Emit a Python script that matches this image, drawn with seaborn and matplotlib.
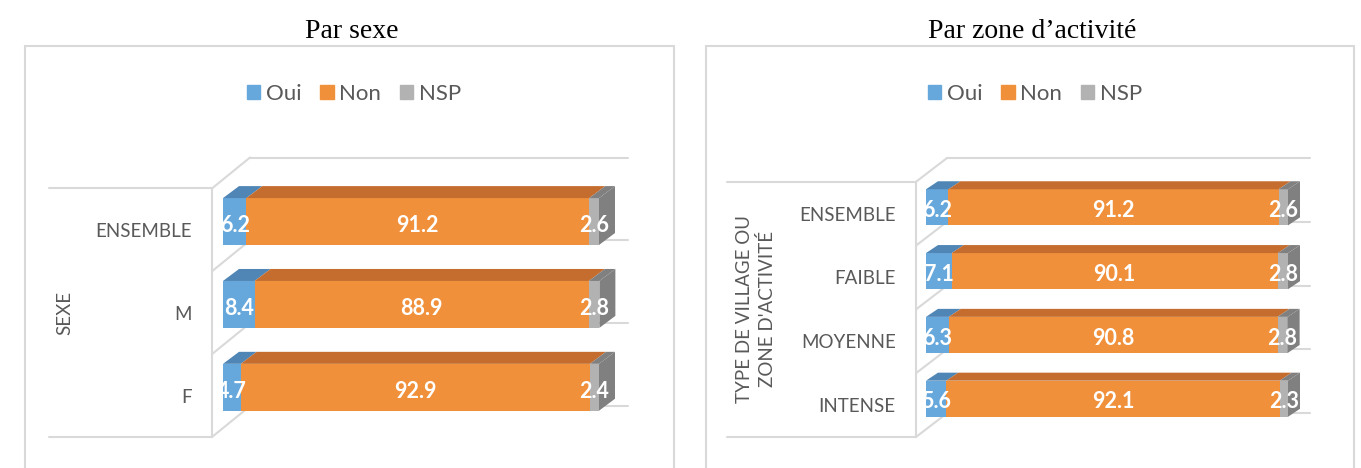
import matplotlib.pyplot as plt
import pandas as pd
import seaborn as sns
from matplotlib.patches import Patch, Polygon, Rectangle

# data
responses = ["Oui", "Non", "NSP"]

sexe_cats = ["ENSEMBLE", "M", "F"]
sexe_oui = [6.2, 8.4, 4.7]
sexe_non = [91.2, 88.9, 92.9]
sexe_nsp = [2.6, 2.8, 2.4]

zone_cats = ["ENSEMBLE", "FAIBLE", "MOYENNE", "INTENSE"]
zone_oui = [6.2, 7.1, 6.3, 5.6]
zone_non = [91.2, 90.1, 90.8, 92.1]
zone_nsp = [2.6, 2.8, 2.8, 2.3]

front_colors = {"Oui": "#67A8DC", "Non": "#F0903B", "NSP": "#B2B2B2"}
top_colors = {"Oui": "#4F86B5", "Non": "#C46D2E", "NSP": "#808080"}
LINE = "#D9D9D9"
TEXT = "#595959"

W, H = 1361, 468
FLOOR = 0.373  # depth of the 3d floor, in category units

sns.set_theme(style="white")
plt.rcParams["font.family"] = ["Lato", "DejaVu Sans"]


def draw_panel(fig, cats, oui, non, nsp, lay):
    n = len(cats)
    x0, y0, x1, y1 = lay["ax"]
    ax = fig.add_axes([x0 / W, 1 - y1 / H, (x1 - x0) / W, (y1 - y0) / H])

    # cumulative values so the overlaid bars look stacked
    cum_oui = list(oui)
    cum_non = [a + b for a, b in zip(oui, non)]
    cum_all = [a + b for a, b in zip(cum_non, nsp)]
    df = pd.DataFrame({
        "cat": cats * 3,
        "rep": ["NSP"] * n + ["Non"] * n + ["Oui"] * n,
        "cum": cum_all + cum_non + cum_oui,
    })
    bar_h = 0.566
    sns.barplot(data=df, x="cum", y="cat", hue="rep", hue_order=["NSP", "Non", "Oui"],
                palette=front_colors, dodge=False, width=bar_h, orient="h",
                saturation=1, errorbar=None, legend=False, linewidth=0, ax=ax, zorder=2)

    sx = (lay["hundred"] - lay["zero"]) / 100
    xlim = ((x0 - lay["zero"]) / sx, (x1 - lay["zero"]) / sx)
    band = (y1 - y0) / (n + FLOOR)
    ax.set_xlim(*xlim)
    ax.set_ylim(n - 0.4, -0.4 - FLOOR)
    back_x = (lay["back"] - lay["zero"]) / sx
    ddx = lay["depth"][0] / sx
    ddy = lay["depth"][1] / band

    # walls and floor of the 3d frame
    ax.plot([xlim[0], xlim[0]], [-0.4, n - 0.4], color=LINE, lw=1.5, clip_on=False, zorder=0.5)
    for k in range(n + 1):
        s = k - 0.4
        ax.plot([xlim[0], back_x], [s, s - FLOOR], color=LINE, lw=1.5, clip_on=False, zorder=0.5)
        ax.plot([back_x, xlim[1]], [s - FLOOR, s - FLOOR], color=LINE, lw=1.5, clip_on=False, zorder=0.5)
    tl = (lay["table"] - x0) / (x1 - x0)
    for s in [-0.4, n - 0.4]:
        ax.plot([tl, 0], [s, s], color=LINE, lw=1.5, transform=ax.get_yaxis_transform(),
                clip_on=False, zorder=0.5)

    # top and side faces of each bar, plus the value labels
    clip = Rectangle((0, -5), 500, 20, transform=ax.transData)
    bars = ax.containers[0]
    for i, p in enumerate(bars):
        yt = p.get_y()
        yb = yt + p.get_height()
        yc = yt + p.get_height() / 2
        segs = [(0, cum_oui[i], oui[i], "Oui"), (cum_oui[i], cum_non[i], non[i], "Non"),
                (cum_non[i], cum_all[i], nsp[i], "NSP")]
        for a, b, v, r in segs:
            ax.add_patch(Polygon([(a, yt), (b, yt), (b + ddx, yt - ddy), (a + ddx, yt - ddy)],
                                 closed=True, facecolor=top_colors[r], lw=0, zorder=3))
            t = ax.text((a + b) / 2, yc + 0.05, f"{v:.1f}", ha="center", va="center",
                        color="white", fontsize=15.5, fontweight="bold", zorder=4)
            t.set_clip_path(clip)
        end = cum_all[i]
        ax.add_patch(Polygon([(end, yt), (end + ddx, yt - ddy), (end + ddx, yb - ddy), (end, yb)],
                             closed=True, facecolor=top_colors["NSP"], lw=0, zorder=3))

    ax.set_yticks([k + 0.1 for k in range(n)], cats)
    ax.set_xticks([])
    ax.tick_params(axis="y", length=0, pad=14.5, labelsize=13.5, labelcolor=TEXT)
    ax.set_xlabel("")
    for sp in ax.spines.values():
        sp.set_visible(False)
    ax.patch.set_alpha(0)

    ax.set_ylabel(lay["ylabel"], color=TEXT, fontsize=13.5, va="center", ha="center",
                  multialignment="center", linespacing=1.3)
    lx, ly = lay["ylabel_at"]
    ax.yaxis.set_label_coords((lx - x0) / (x1 - x0), (y1 - ly) / (y1 - y0))

    # outer frame, title and legend of the panel
    bx0, by0, bx1 = lay["box"]
    fig.add_artist(Rectangle((bx0 / W, -0.1), (bx1 - bx0) / W, 1 - by0 / H + 0.1,
                             transform=fig.transFigure, fill=False, ec=LINE, lw=1.5))
    fig.text(lay["title_x"] / W, 1 - 31 / H, lay["title"], ha="center", va="center",
             fontsize=20, family="Liberation Serif", color="black")
    handles = [Patch(color=front_colors[r], label=r) for r in responses]
    fig.legend(handles=handles, loc="center", bbox_to_anchor=(lay["legend_x"] / W, 1 - 94 / H),
               ncol=3, frameon=False, fontsize=16, handlelength=0.6, handleheight=0.6,
               handletextpad=0.25, columnspacing=0.85, labelcolor=TEXT)
    return ax


fig = plt.figure(figsize=(W / 100, H / 100), dpi=100)

draw_panel(fig, sexe_cats, sexe_oui, sexe_non, sexe_nsp, {
    "ax": (212, 157.5, 628, 437), "zero": 223, "hundred": 599, "back": 250,
    "depth": (16, 12), "table": 49, "ylabel": "SEXE", "ylabel_at": (65, 313),
    "box": (25, 46, 674), "title": "Par sexe", "title_x": 351.5, "legend_x": 354,
})
draw_panel(fig, zone_cats, zone_oui, zone_non, zone_nsp, {
    "ax": (916, 158, 1310, 437), "zero": 926, "hundred": 1288, "back": 947,
    "depth": (12, 8), "table": 727, "ylabel": "TYPE DE VILLAGE OU\nZONE D'ACTIVITÉ",
    "ylabel_at": (756, 309), "box": (706, 46, 1354), "title": "Par zone d’activité",
    "title_x": 1032, "legend_x": 1035,
})

fig.savefig("out.png", dpi=100)
